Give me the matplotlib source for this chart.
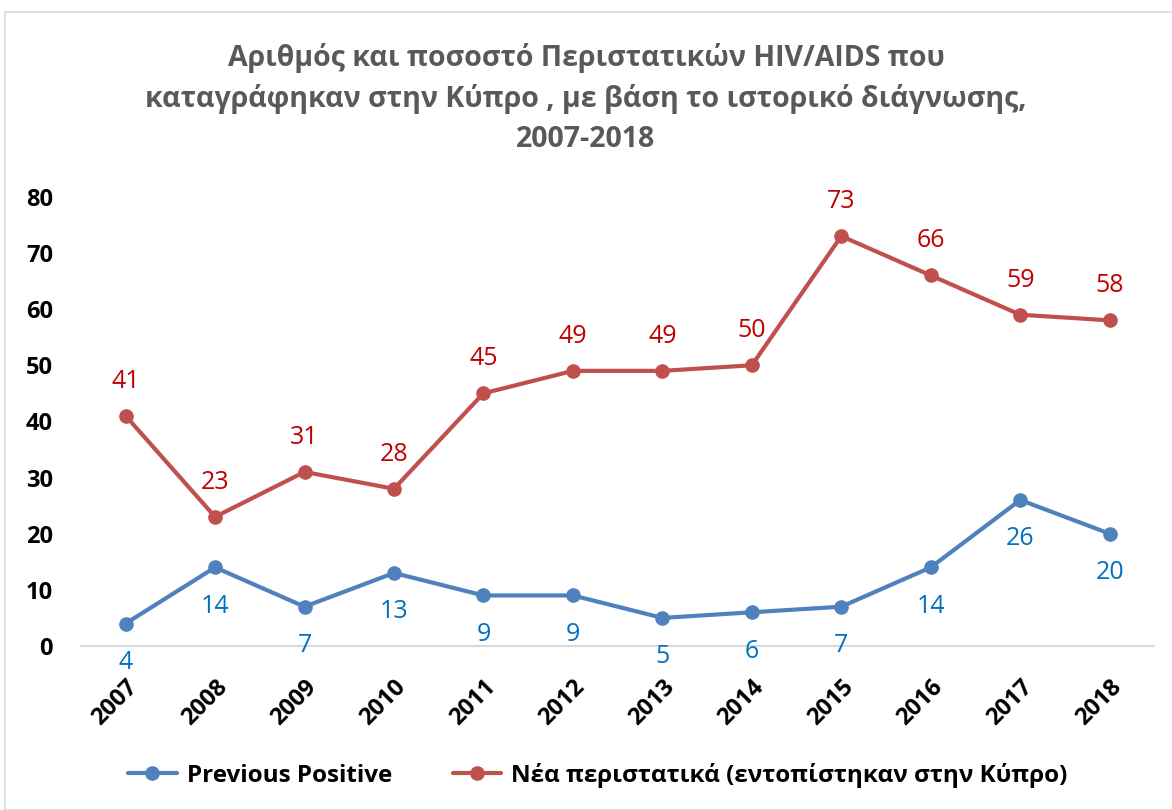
import matplotlib.pyplot as plt
from matplotlib.patches import Rectangle

plt.rcParams['font.family'] = ['Open Sans', 'DejaVu Sans']

# Data
years = ['2007', '2008', '2009', '2010', '2011', '2012',
         '2013', '2014', '2015', '2016', '2017', '2018']
previous_positive = [4, 14, 7, 13, 9, 9, 5, 6, 7, 14, 26, 20]
new_cases = [41, 23, 31, 28, 45, 49, 49, 50, 73, 66, 59, 58]
yticks = [0, 10, 20, 30, 40, 50, 60, 70, 80]

title = ('Αριθμός και ποσοστό Περιστατικών HIV/AIDS που\n'
         'καταγράφηκαν στην Κύπρο , με βάση το ιστορικό διάγνωσης,\n'
         '2007-2018')
label_prev = 'Previous Positive'
label_new = 'Νέα περιστατικά (εντοπίστηκαν στην Κύπρο)'

blue = '#4F81BD'
red = '#C0504D'
blue_txt = '#0070C0'
red_txt = '#C00000'

fig = plt.figure(figsize=(11.72, 8.1), dpi=100)
ax = fig.add_axes([0.069, 0.2025, 0.916, 0.5545])

# chart border
fig.patches.append(Rectangle((5 / 1172, 0.0), 1.0, 1 - 12 / 810,
                             transform=fig.transFigure, fill=False,
                             edgecolor='#D9D9D9', linewidth=1.2))

x = range(len(years))
ax.plot(x, previous_positive, color=blue, lw=3, marker='o', ms=9.5,
        label=label_prev, solid_capstyle='round')
ax.plot(x, new_cases, color=red, lw=3, marker='o', ms=9.5,
        label=label_new, solid_capstyle='round')

for i, v in enumerate(previous_positive):
    ax.annotate(str(v), (i, v), xytext=(0, -28), textcoords='offset points',
                ha='center', va='center', color=blue_txt, fontsize=18)
for i, v in enumerate(new_cases):
    ax.annotate(str(v), (i, v), xytext=(0, 25), textcoords='offset points',
                ha='center', va='center', color=red_txt, fontsize=18)

ax.set_xlim(-0.5, len(years) - 0.5)
ax.set_ylim(0, 80)
ax.set_yticks(yticks)
ax.set_yticklabels([str(t) for t in yticks], fontsize=17, fontweight='bold')
ax.set_xticks(list(x))
ax.set_xticklabels(years, rotation=45, ha='right', rotation_mode='anchor',
                   fontsize=17, fontweight='bold')
ax.tick_params(axis='both', length=0)
ax.tick_params(axis='y', pad=20)
ax.tick_params(axis='x', pad=21)

for s in ['top', 'right', 'left']:
    ax.spines[s].set_visible(False)
ax.spines['bottom'].set_color('#D9D9D9')
ax.spines['bottom'].set_linewidth(1.5)

fig.text(0.5, 0.947, title, ha='center', va='top', fontsize=20.5,
         fontweight='bold', color='#595959', linespacing=1.5)

leg = fig.legend(loc='center', bbox_to_anchor=(0.51, 0.043), ncol=2,
                 frameon=False, fontsize=17.5, columnspacing=2.5,
                 handlelength=2.0, handletextpad=0.4)
for t in leg.get_texts():
    t.set_fontweight('bold')

fig.savefig('out.png', dpi=100)
